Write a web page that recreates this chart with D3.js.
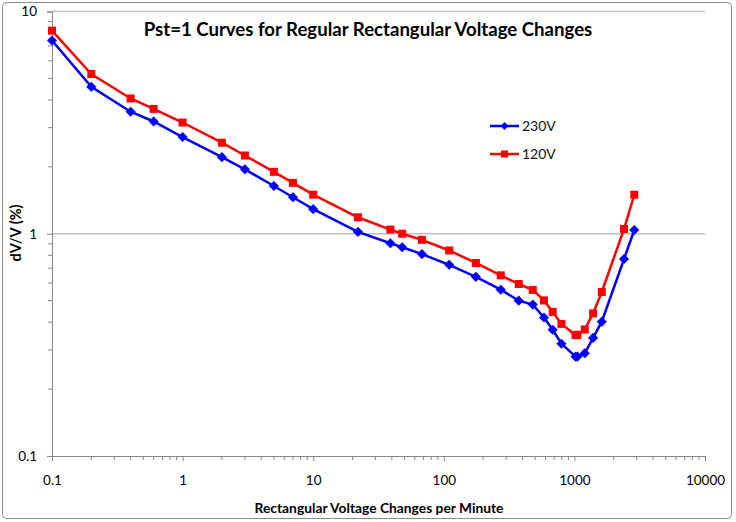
<!DOCTYPE html>
<html><head><meta charset="utf-8">
<script src="https://cdn.jsdelivr.net/npm/d3@7/dist/d3.min.js"></script>
<style>
html,body{margin:0;padding:0;background:#fff;}
svg{display:block;font-family:Lato, "Open Sans", sans-serif;}
</style></head>
<body><svg id="c" width="736" height="522"></svg>
<script>
const rate = [0.1,0.2,0.4,0.6,1,2,3,5,7,10,22,39,48,68,110,176,273,375,480,585,682,796,1020,1055,1200,1390,1620,2400,2875];
const v230 = [7.4,4.58,3.54,3.2,2.724,2.211,1.95,1.64,1.459,1.29,1.02,0.906,0.87,0.81,0.725,0.64,0.56,0.5,0.48,0.42,0.37,0.32,0.28,0.28,0.29,0.34,0.402,0.77,1.04];
const v120 = [8.202,5.232,4.062,3.645,3.166,2.568,2.25,1.899,1.695,1.499,1.186,1.044,1.0,0.939,0.841,0.739,0.65,0.594,0.559,0.501,0.445,0.393,0.35,0.351,0.371,0.438,0.547,1.051,1.498];
const xTicks = [0.1,1,10,100,1000,10000];
const xTickLabels = ["0.1","1","10","100","1000","10000"];
const yTicks = [0.1,1,10];
const yTickLabels = ["0.1","1","10"];
const seriesNames = ["230V","120V"];
const title = "Pst=1 Curves for Regular Rectangular Voltage Changes";
const xTitle = "Rectangular Voltage Changes per Minute";
const yTitle = "dV/V (%)";

const svg = d3.select("#c");
svg.append("rect").attr("x",2.5).attr("y",2.5).attr("width",729).attr("height",516)
  .attr("rx",4).attr("fill","#fff").attr("stroke","#8c8c8c").attr("stroke-width",1);

const L=52, R=705, T=11.5, B=456;
const x = d3.scaleLog().domain([0.1,10000]).range([L,R]);
const y = d3.scaleLog().domain([0.1,10]).range([B,T]);

// gridlines
svg.append("g").selectAll("line").data([1,10]).join("line")
  .attr("x1",L).attr("x2",R).attr("y1",d=>y(d)).attr("y2",d=>y(d))
  .attr("stroke","#c0c0c0").attr("stroke-width",1.5);

// minor ticks
const minorX=[], minorY=[];
for (let e=-1;e<4;e++) for (let m=2;m<10;m++) minorX.push(m*Math.pow(10,e));
for (let e=-1;e<1;e++) for (let m=2;m<10;m++) minorY.push(m*Math.pow(10,e));

const axisColor="#868686";
const gx = svg.append("g").attr("transform",`translate(0,${B})`)
  .call(d3.axisBottom(x).tickValues(xTicks).tickFormat((d,i)=>xTickLabels[i]).tickSize(5).tickPadding(14));
const gy = svg.append("g").attr("transform",`translate(${L},0)`)
  .call(d3.axisLeft(y).tickValues(yTicks).tickFormat((d,i)=>yTickLabels[i]).tickSize(5).tickPadding(10));
[gx,gy].forEach(g=>{
  g.select(".domain").attr("stroke",axisColor);
  g.selectAll(".tick line").attr("stroke",axisColor);
  g.selectAll(".tick text").attr("fill","#000").style("font-size","13.5px").style("font-family","Lato, sans-serif");
});
svg.append("g").selectAll("line").data(minorX).join("line")
  .attr("x1",d=>x(d)).attr("x2",d=>x(d)).attr("y1",B).attr("y2",B+4).attr("stroke",axisColor);
svg.append("g").selectAll("line").data(minorY).join("line")
  .attr("y1",d=>y(d)).attr("y2",d=>y(d)).attr("x1",L-4).attr("x2",L).attr("stroke",axisColor);

// series
const line = d3.line().x(d=>x(d[0])).y(d=>y(d[1]));
const s230 = rate.map((r,i)=>[r,v230[i]]);
const s120 = rate.map((r,i)=>[r,v120[i]]);
const blue="#0000ff", red="#ff0000";
svg.append("path").datum(s230).attr("d",line).attr("fill","none").attr("stroke",blue).attr("stroke-width",2.5);
svg.append("path").datum(s120).attr("d",line).attr("fill","none").attr("stroke",red).attr("stroke-width",2.5);
const diamond = (cx,cy,s)=>`M${cx},${cy-s}L${cx+s},${cy}L${cx},${cy+s}L${cx-s},${cy}Z`;
svg.append("g").selectAll("path").data(s230).join("path")
  .attr("d",d=>diamond(x(d[0]),y(d[1]),4.8)).attr("fill",blue).attr("stroke",blue).attr("stroke-width",0.5);
svg.append("g").selectAll("rect").data(s120).join("rect")
  .attr("x",d=>x(d[0])-4).attr("y",d=>y(d[1])-4).attr("width",8).attr("height",8).attr("fill",red);

// legend
const lg = svg.append("g");
[[blue,126],[red,154]].forEach(([c,ly],i)=>{
  lg.append("line").attr("x1",490).attr("x2",519).attr("y1",ly).attr("y2",ly).attr("stroke",c).attr("stroke-width",2.5);
  if(i===0) lg.append("path").attr("d",diamond(504.5,ly,4)).attr("fill",c);
  else lg.append("rect").attr("x",501).attr("y",ly-3.5).attr("width",7).attr("height",7).attr("fill",c);
  lg.append("text").attr("x",522).attr("y",ly+5).text(seriesNames[i]).style("font-size","14px").attr("fill","#111");
});

// titles
svg.append("text").attr("x",368).attr("y",36).attr("text-anchor","middle")
  .style("font-size","18.6px").style("font-weight","bold").text(title);
svg.append("text").attr("x",379).attr("y",513).attr("text-anchor","middle")
  .style("font-size","13.8px").style("font-weight","bold").text(xTitle);
svg.append("text").attr("transform","translate(21,233) rotate(-90)").attr("text-anchor","middle")
  .style("font-size","14.5px").style("font-weight","bold").text(yTitle);
</script></body></html>
